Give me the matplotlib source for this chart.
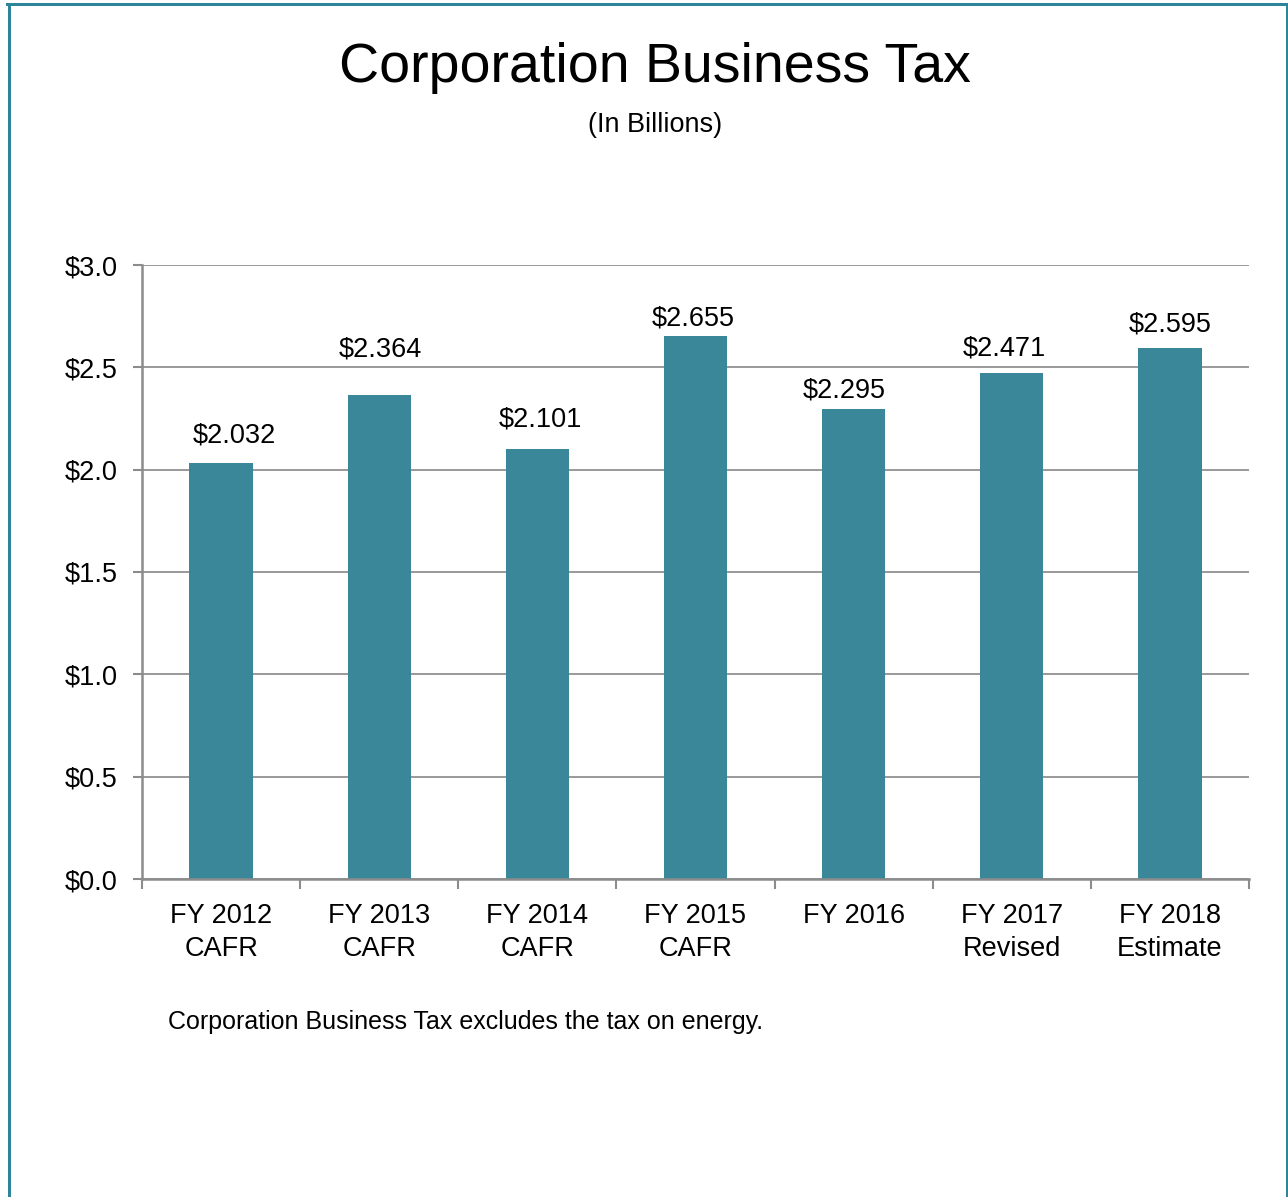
import matplotlib
matplotlib.use("Agg")
import matplotlib.pyplot as plt
from matplotlib import font_manager
from matplotlib.lines import Line2D
from matplotlib.ticker import FixedLocator

# Corporation Business Tax collections, billions of dollars
categories = ["FY 2012\nCAFR", "FY 2013\nCAFR", "FY 2014\nCAFR", "FY 2015\nCAFR",
              "FY 2016", "FY 2017\nRevised", "FY 2018\nEstimate"]
values = [2.032, 2.364, 2.101, 2.655, 2.295, 2.471, 2.595]
value_labels = ["$2.032", "$2.364", "$2.101", "$2.655", "$2.295", "$2.471", "$2.595"]
yticks = [0.0, 0.5, 1.0, 1.5, 2.0, 2.5, 3.0]
ytick_labels = ["$0.0", "$0.5", "$1.0", "$1.5", "$2.0", "$2.5", "$3.0"]

# hand-placed data label nudges (points): x shift, height above bar top
label_dx = [9.4, 0.7, 2.2, -1.4, -6.5, -5.0, 0.0]
label_dy = [20.2, 33.1, 20.9, 12.2, 13.7, 18.0, 16.6]

names = {f.name for f in font_manager.fontManager.ttflist}
family = ["Liberation Sans Narrow", "Liberation Sans", "DejaVu Sans"]
family = [f for f in family if f in names] or ["DejaVu Sans"]
plt.rcParams["font.family"] = family

teal = "#3A8799"
border = "#2E8599"
grey = "#8C8C8C"

fig = plt.figure(figsize=(12.88, 11.97), dpi=100)
ax = fig.add_axes([142 / 1288, 1 - 879 / 1197, (1249 - 142) / 1288, (879 - 265) / 1197])

x = list(range(len(values)))
ax.bar(x, values, width=0.4, color=teal, zorder=3)

for xi, v, lab, dx, dy in zip(x, values, value_labels, label_dx, label_dy):
    ax.annotate(lab, (xi, v), xytext=(dx, dy), textcoords="offset points",
                ha="center", va="center", fontsize=19.5, color="black")

ax.set_xlim(-0.5, len(values) - 0.5)
ax.set_ylim(0, 3.0)
ax.set_yticks(yticks)
ax.set_yticklabels(ytick_labels, fontsize=19.5)
ax.set_xticks(x)
ax.set_xticklabels(categories, fontsize=19.5, linespacing=1.38)
ax.xaxis.set_minor_locator(FixedLocator([i - 0.5 for i in range(len(values) + 1)]))
ax.tick_params(axis="x", which="major", length=0, pad=17)
ax.tick_params(axis="x", which="minor", length=7.5, width=1.5, color=grey, direction="out")
ax.tick_params(axis="y", length=6.5, width=1.5, color=grey, pad=11)

ax.grid(axis="y", color="#999999", linewidth=1.4, zorder=0)
for side in ("top", "right"):
    ax.spines[side].set_visible(False)
for side in ("left", "bottom"):
    ax.spines[side].set_color(grey)
    ax.spines[side].set_linewidth(1.8)
ax.spines["bottom"].set_zorder(4)

fig.text(655 / 1288, 1 - 68 / 1197, "Corporation Business Tax", ha="center", va="center",
         fontsize=40)
fig.text(655 / 1288, 1 - 125 / 1197, "(In Billions)", ha="center", va="center", fontsize=19.5)
fig.text(168 / 1288, 1 - 1022 / 1197, "Corporation Business Tax excludes the tax on energy.",
         ha="left", va="center", fontsize=18)

# frame on the left, top and right edges
lw = 3.0 * 72 / 100
fig.add_artist(Line2D([8.5 / 1288, 8.5 / 1288], [0, 1 - 4 / 1197], transform=fig.transFigure,
                      color=border, linewidth=lw))
fig.add_artist(Line2D([7 / 1288, 1], [1 - 4 / 1197, 1 - 4 / 1197], transform=fig.transFigure,
                      color=border, linewidth=lw))
fig.add_artist(Line2D([1286.5 / 1288, 1286.5 / 1288], [0, 1 - 4 / 1197], transform=fig.transFigure,
                      color=border, linewidth=lw))

fig.savefig("out.png", dpi=100)
